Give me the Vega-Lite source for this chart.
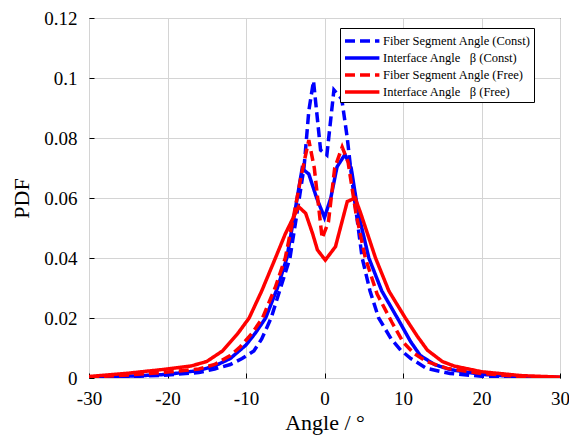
{
  "$schema": "https://vega.github.io/schema/vega-lite/v6.json",
  "width": 471,
  "height": 360,
  "autosize": "none",
  "padding": {"left": 89, "top": 18, "right": 9, "bottom": 59},
  "background": "white",
  "config": {
    "view": {"stroke": "black", "strokeWidth": 1},
    "font": "Liberation Serif",
    "axis": {"labelFont": "Liberation Serif", "titleFont": "Liberation Serif"},
    "legend": {"labelFont": "Liberation Serif"}
  },
  "datasets": {
    "bd": [
      {"a": -30, "p": 0.0001}, {"a": -25, "p": 0.0004}, {"a": -20, "p": 0.001}, {"a": -16, "p": 0.0018},
      {"a": -14, "p": 0.003}, {"a": -12, "p": 0.0045}, {"a": -10.5, "p": 0.0065}, {"a": -9, "p": 0.009},
      {"a": -8, "p": 0.013}, {"a": -6.8, "p": 0.02}, {"a": -5.6, "p": 0.03}, {"a": -4.4, "p": 0.04},
      {"a": -3.5, "p": 0.055}, {"a": -2.6, "p": 0.0704}, {"a": -2, "p": 0.089}, {"a": -1.4, "p": 0.099},
      {"a": -0.5, "p": 0.076}, {"a": 0.3, "p": 0.0743}, {"a": 1.2, "p": 0.096}, {"a": 2.2, "p": 0.093},
      {"a": 2.9, "p": 0.08}, {"a": 3.5, "p": 0.066}, {"a": 4.8, "p": 0.04}, {"a": 5.8, "p": 0.029},
      {"a": 6.9, "p": 0.02}, {"a": 8.5, "p": 0.013}, {"a": 9.7, "p": 0.0093}, {"a": 11, "p": 0.0065},
      {"a": 13, "p": 0.0032}, {"a": 16, "p": 0.0015}, {"a": 20, "p": 0.0006}, {"a": 25, "p": 0.0002},
      {"a": 30, "p": 0.0001}
    ],
    "bs": [
      {"a": -30, "p": 0.0002}, {"a": -25, "p": 0.0006}, {"a": -20, "p": 0.0012}, {"a": -16, "p": 0.0025},
      {"a": -14, "p": 0.004}, {"a": -12, "p": 0.0065}, {"a": -10, "p": 0.011}, {"a": -8.8, "p": 0.015},
      {"a": -7.5, "p": 0.02}, {"a": -6, "p": 0.03}, {"a": -4.8, "p": 0.04}, {"a": -3.8, "p": 0.055},
      {"a": -2.85, "p": 0.0698}, {"a": -2, "p": 0.068}, {"a": -1, "p": 0.06}, {"a": 0, "p": 0.0535},
      {"a": 0.8, "p": 0.06}, {"a": 1.6, "p": 0.0704}, {"a": 2.6, "p": 0.0745}, {"a": 3.4, "p": 0.07},
      {"a": 4.3, "p": 0.055}, {"a": 5.65, "p": 0.04}, {"a": 7.3, "p": 0.029}, {"a": 9.5, "p": 0.019},
      {"a": 11, "p": 0.012}, {"a": 12.2, "p": 0.0075}, {"a": 14, "p": 0.0045}, {"a": 16, "p": 0.0028},
      {"a": 20, "p": 0.0012}, {"a": 25, "p": 0.0004}, {"a": 30, "p": 0.0002}
    ],
    "rd": [
      {"a": -30, "p": 0.0003}, {"a": -25, "p": 0.001}, {"a": -20, "p": 0.002}, {"a": -16, "p": 0.003},
      {"a": -14, "p": 0.0045}, {"a": -12, "p": 0.0075}, {"a": -10.7, "p": 0.0105}, {"a": -9.2, "p": 0.015},
      {"a": -7.9, "p": 0.02}, {"a": -6.3, "p": 0.03}, {"a": -5, "p": 0.04}, {"a": -4, "p": 0.053},
      {"a": -3, "p": 0.067}, {"a": -2, "p": 0.0793}, {"a": -1.3, "p": 0.07}, {"a": -0.3, "p": 0.0466},
      {"a": 0.5, "p": 0.052}, {"a": 1.3, "p": 0.07}, {"a": 2.25, "p": 0.077}, {"a": 3, "p": 0.072},
      {"a": 4, "p": 0.055}, {"a": 5.2, "p": 0.04}, {"a": 6.7, "p": 0.028}, {"a": 8.6, "p": 0.0185},
      {"a": 10, "p": 0.012}, {"a": 11.4, "p": 0.0082}, {"a": 13, "p": 0.0055}, {"a": 15.6, "p": 0.0032},
      {"a": 20, "p": 0.0015}, {"a": 25, "p": 0.0005}, {"a": 30, "p": 0.0002}
    ],
    "rs": [
      {"a": -30, "p": 0.0005}, {"a": -25, "p": 0.0016}, {"a": -20, "p": 0.003}, {"a": -17, "p": 0.004},
      {"a": -15, "p": 0.0055}, {"a": -13, "p": 0.009}, {"a": -11, "p": 0.015}, {"a": -9.6, "p": 0.02},
      {"a": -8, "p": 0.029}, {"a": -6.25, "p": 0.04}, {"a": -5, "p": 0.048}, {"a": -3.3, "p": 0.0571},
      {"a": -2.4, "p": 0.0549}, {"a": -1.5, "p": 0.048}, {"a": -0.9, "p": 0.0427}, {"a": 0.1, "p": 0.0393},
      {"a": 1.4, "p": 0.0438}, {"a": 2.9, "p": 0.0588}, {"a": 3.9, "p": 0.06}, {"a": 4.6, "p": 0.055},
      {"a": 6.5, "p": 0.04}, {"a": 8.2, "p": 0.029}, {"a": 10.3, "p": 0.02}, {"a": 11.8, "p": 0.014},
      {"a": 13.1, "p": 0.0093}, {"a": 15, "p": 0.0055}, {"a": 16.5, "p": 0.004}, {"a": 20, "p": 0.0021},
      {"a": 25, "p": 0.0008}, {"a": 30, "p": 0.0003}
    ]
  },
  "data": {"name": "bd"},
  "layer": [
    {"data": {"name": "bd"}, "transform": [{"calculate": "'Fiber Segment Angle (Const)'", "as": "s"}], "mark": {"type": "line", "strokeWidth": 3.5, "clip": true},
     "encoding": {
       "x": {"field": "a", "type": "quantitative"},
       "y": {"field": "p", "type": "quantitative"},
       "color": {"field": "s", "type": "nominal"},
       "strokeDash": {"field": "s", "type": "nominal"}
     }},
    {"data": {"name": "bs"}, "transform": [{"calculate": "'Interface Angle \u00a0 β (Const)'", "as": "s"}], "mark": {"type": "line", "strokeWidth": 3.5, "clip": true},
     "encoding": {
       "x": {"field": "a", "type": "quantitative"},
       "y": {"field": "p", "type": "quantitative"},
       "color": {"field": "s", "type": "nominal"},
       "strokeDash": {"field": "s", "type": "nominal"}
     }},
    {"data": {"name": "rd"}, "transform": [{"calculate": "'Fiber Segment Angle (Free)'", "as": "s"}], "mark": {"type": "line", "strokeWidth": 3.5, "clip": true},
     "encoding": {
       "x": {"field": "a", "type": "quantitative"},
       "y": {"field": "p", "type": "quantitative"},
       "color": {"field": "s", "type": "nominal"},
       "strokeDash": {"field": "s", "type": "nominal"}
     }},
    {"data": {"name": "rs"}, "transform": [{"calculate": "'Interface Angle \u00a0 β (Free)'", "as": "s"}], "mark": {"type": "line", "strokeWidth": 3.5, "clip": true},
     "encoding": {
       "x": {"field": "a", "type": "quantitative",
             "scale": {"domain": [-30, 30], "nice": false},
             "axis": {"values": [-30, -20, -10, 0, 10, 20, 30], "labelExpr": "toString(datum.value)", "labelFlush": false, "labelOverlap": false,
                      "title": "Angle / °", "grid": true, "gridColor": "#d4d4d4", "domain": false,
                      "tickColor": "black", "tickSize": -5, "labelPadding": 16, "labelFontSize": 19, "labelColor": "black",
                      "titleFontSize": 22, "titleFontWeight": "normal", "titleColor": "black", "titlePadding": 4}},
       "y": {"field": "p", "type": "quantitative",
             "scale": {"domain": [0, 0.12], "nice": false},
             "axis": {"values": [0, 0.02, 0.04, 0.06, 0.08, 0.1, 0.12], "labelExpr": "toString(datum.value)", "labelFlush": false, "labelOverlap": false,
                      "title": "PDF", "grid": true, "gridColor": "#d4d4d4", "domain": false,
                      "tickColor": "black", "tickSize": -5, "labelPadding": 17, "labelFontSize": 19, "labelColor": "black",
                      "titleFontSize": 22, "titleFontWeight": "normal", "titleColor": "black", "titlePadding": 10}},
       "color": {"field": "s", "type": "nominal",
                 "scale": {"domain": ["Fiber Segment Angle (Const)", "Interface Angle \u00a0 β (Const)", "Fiber Segment Angle (Free)", "Interface Angle \u00a0 β (Free)"],
                           "range": ["#0000ff", "#0000ff", "#ff0000", "#ff0000"]},
                 "legend": {"title": null, "orient": "none", "legendX": 251, "legendY": 10, "fillColor": "white", "strokeColor": "black",
                            "padding": 3, "symbolType": "M-1,0H3.3", "symbolSize": 256, "symbolStrokeWidth": 3.5,
                            "labelExpr": "datum.label + '\u2003\u2003\u2003'",
                            "labelFont": "Liberation Serif", "labelFontSize": 12.5, "labelColor": "black", "rowPadding": 0, "labelOffset": 20, "labelLimit": 300}},
       "strokeDash": {"field": "s", "type": "nominal",
                      "scale": {"domain": ["Fiber Segment Angle (Const)", "Interface Angle \u00a0 β (Const)", "Fiber Segment Angle (Free)", "Interface Angle \u00a0 β (Free)"],
                                "range": [[10, 5], [1, 0], [10, 5], [1, 0]]},
                      "legend": null}
     }}
  ]
}
